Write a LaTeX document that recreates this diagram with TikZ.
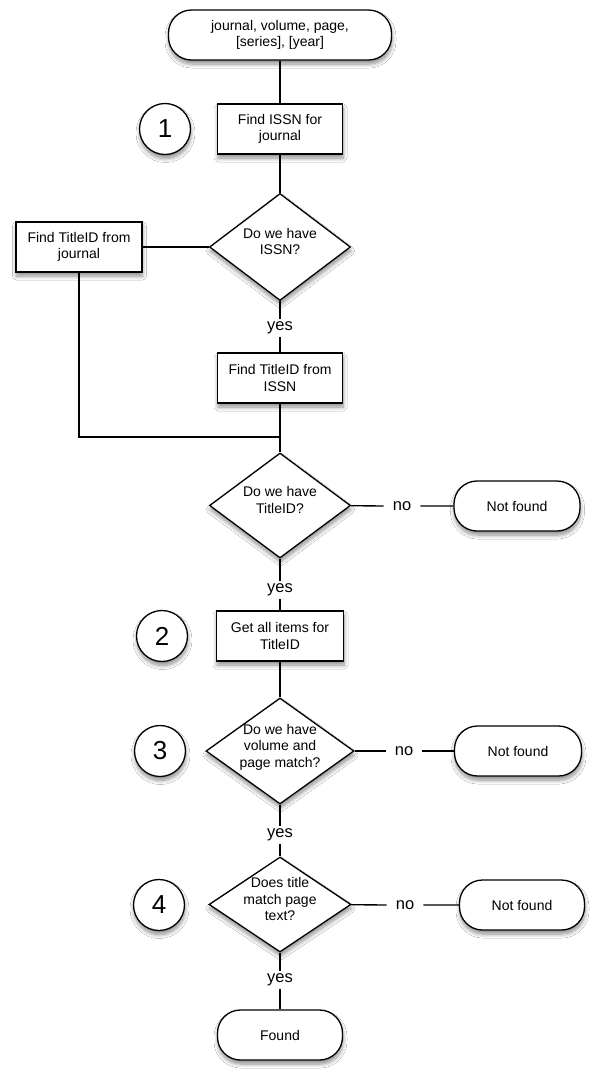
\documentclass[tikz,border=0pt]{standalone}
\usepackage{fontspec}
\setmainfont{Liberation Sans}
\usetikzlibrary{shapes.geometric,shadows,shadows.blur}
\newcommand\dtxt[1]{\smash{\makebox[0pt]{\begin{tabular}{@{}c@{}}#1\end{tabular}}}}
\begin{document}
\begin{tikzpicture}[x=1pt,y=-1pt,
 base/.style={draw=black, line width=1.3pt, fill=white, font=\fontsize{14}{16.5}\selectfont, align=center,
   blur shadow={shadow xshift=0.5pt,shadow yshift=-4pt,shadow blur radius=4pt,shadow blur steps=8,shadow opacity=45}},
 term/.style={base, rectangle, rounded corners=23pt, minimum height=50pt},
 proc/.style={base, rectangle, minimum width=125pt, minimum height=50pt},
 dec/.style={base, diamond, inner sep=0pt, minimum width=141pt, minimum height=106pt},
 num/.style={base, circle, minimum size=51pt, inner sep=0pt, font=\fontsize{26}{30}\selectfont},
 lab/.style={font=\fontsize{16.5}{19}\selectfont, inner xsep=9pt, inner ysep=3pt},
 conn/.style={line width=1.3pt}
]
\fill[white] (0,0) rectangle (600,1080);
\path[use as bounding box] (0,0) rectangle (600,1080);

\node[term, minimum width=223pt] (top) at (280,35) {journal, volume, page,\\ {[series]}, [year]};
\node[proc] (p1) at (280,129) {Find ISSN for\\ journal};
\node[num] (c1) at (165,129) {1};
\node[dec, minimum height=107pt] (d1) at (280,247) {\dtxt{Do we have\\ ISSN?}};
\node[proc, minimum width=126pt] (lj) at (79,247) {Find TitleID from\\ journal};
\node[lab] (y1) at (280,328) {yes};
\node[proc] (p2) at (280,378) {Find TitleID from\\ ISSN};
\coordinate (join) at (280,437);
\node[dec, minimum height=105pt] (d2) at (280,505.5) {\dtxt{Do we have\\ TitleID?}};
\node[lab] (n2) at (402,506) {no};
\node[term, minimum width=126pt] (nf1) at (517,506) {Not found};
\node[lab] (y2) at (280,590) {yes};
\node[proc, minimum width=127pt] (p3) at (280,636) {Get all items for\\ TitleID};
\node[num] (c2) at (162,636) {2};
\node[dec, minimum width=148pt] (d3) at (280,751) {\dtxt{Do we have\\ volume and\\ page match?}};
\node[num] (c3) at (160,751) {3};
\node[lab] (n3) at (404,751) {no};
\node[term, minimum width=127pt] (nf2) at (518,751) {Not found};
\node[lab] (y3) at (280,835) {yes};
\node[dec, minimum width=142pt, minimum height=95pt] (d4) at (280,904.5) {\dtxt{Does title\\ match page\\ text?}};
\node[num] (c4) at (159,905) {4};
\node[lab] (n4) at (405,905) {no};
\node[term, minimum width=125pt] (nf3) at (522,905) {Not found};
\node[lab] (y4) at (280,980) {yes};
\node[term, minimum width=125pt] (found) at (280,1035) {Found};

\draw[conn] (top) -- (p1);
\draw[conn] (p1) -- (d1);
\draw[conn] (d1.west) -- (lj.east);
\draw[conn] (d1) -- (y1) -- (p2);
\draw[conn] (p2) -- (d2);
\draw[conn] (lj) |- (join);
\draw[conn] (d2) -- (n2) -- (nf1);
\draw[conn] (d2) -- (y2) -- (p3);
\draw[conn] (p3) -- (d3);
\draw[conn] (d3) -- (n3) -- (nf2);
\draw[conn] (d3) -- (y3) -- (d4);
\draw[conn] (d4) -- (n4) -- (nf3);
\draw[conn] (d4) -- (y4) -- (found);
\end{tikzpicture}
\end{document}
